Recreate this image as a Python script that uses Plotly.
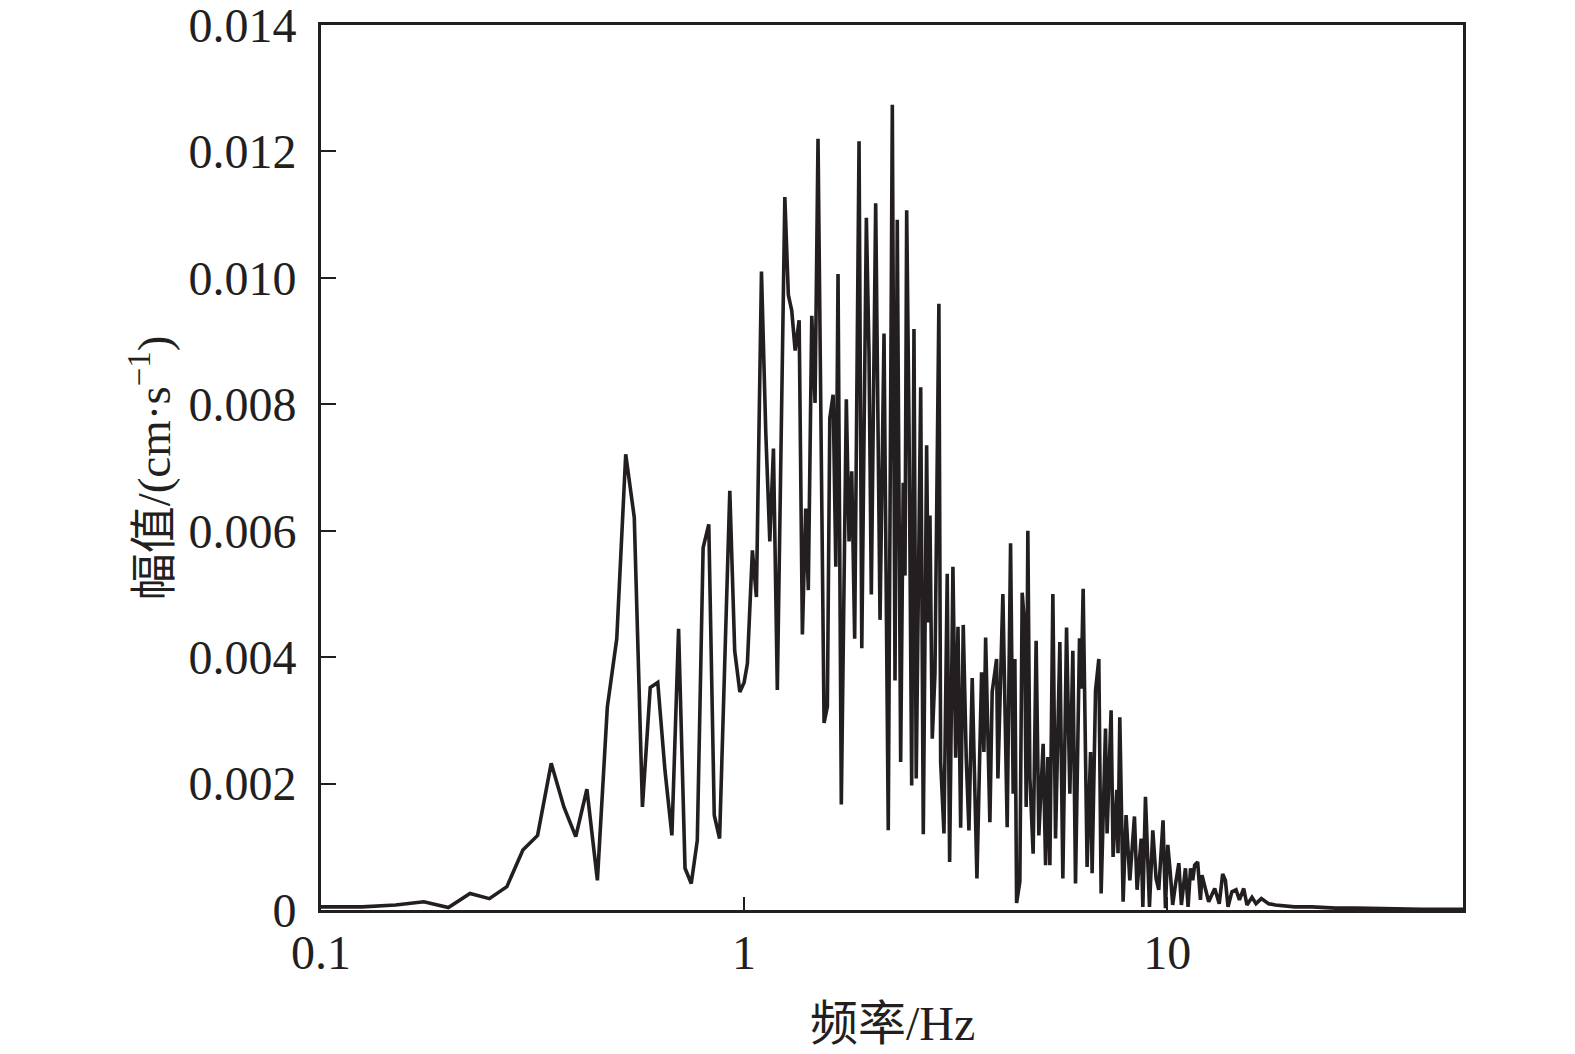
import plotly.graph_objects as go

# Frequency (Hz) and Fourier amplitude (cm/s)
freq_low = [0.100, 0.125, 0.150, 0.175, 0.200, 0.225, 0.250, 0.275, 0.300, 0.325,
            0.350, 0.375, 0.400, 0.425, 0.450, 0.475, 0.500, 0.525, 0.550, 0.575,
            0.600, 0.625, 0.650, 0.675, 0.700, 0.725, 0.750, 0.775, 0.800, 0.825,
            0.850, 0.875, 0.925, 0.950, 0.977]
amp_low = [0.00005, 0.00005, 0.00008, 0.00013, 0.00004, 0.00026, 0.00018, 0.00037, 0.00095, 0.00118,
           0.00232, 0.00163, 0.00116, 0.00191, 0.00047, 0.00321, 0.00429, 0.00721, 0.00621, 0.00163,
           0.00352, 0.00360, 0.00221, 0.00118, 0.00445, 0.00066, 0.00042, 0.00110, 0.00573, 0.00610,
           0.00150, 0.00113, 0.00663, 0.00410, 0.00345]

freq_mid = [1.000, 1.018, 1.046, 1.069, 1.099, 1.125, 1.150, 1.173, 1.198, 1.248,
            1.272, 1.296, 1.320, 1.349, 1.373, 1.398, 1.418, 1.445, 1.471, 1.495,
            1.545, 1.573, 1.594, 1.623, 1.647, 1.667, 1.697, 1.744, 1.770, 1.796,
            1.825, 1.869, 1.897, 1.945, 1.973, 1.998, 2.046, 2.095, 2.141, 2.191,
            2.240, 2.273, 2.301, 2.344, 2.377, 2.400, 2.422, 2.453, 2.489, 2.520,
            2.551, 2.614, 2.651, 2.700, 2.724, 2.749, 2.784, 2.825, 2.886, 2.914,
            2.967, 3.020, 3.060, 3.115, 3.162, 3.202, 3.249, 3.295, 3.349, 3.399,
            3.460, 3.550, 3.641, 3.687, 3.722]
amp_mid = [0.00360, 0.00390, 0.00569, 0.00495, 0.01010, 0.00756, 0.00583, 0.00730, 0.00348, 0.01128,
           0.00973, 0.00948, 0.00885, 0.00933, 0.00436, 0.00635, 0.00506, 0.00940, 0.00802, 0.01220,
           0.00296, 0.00322, 0.00778, 0.00815, 0.00543, 0.01006, 0.00167, 0.00808, 0.00583, 0.00694,
           0.00429, 0.01216, 0.00414, 0.01095, 0.00882, 0.00499, 0.01118, 0.00459, 0.00912, 0.00126,
           0.01274, 0.00363, 0.01092, 0.00234, 0.00676, 0.00529, 0.01107, 0.00768, 0.00197, 0.00919,
           0.00208, 0.00827, 0.00120, 0.00735, 0.00455, 0.00624, 0.00271, 0.00374, 0.00959, 0.00234,
           0.00121, 0.00532, 0.00076, 0.00543, 0.00241, 0.00448, 0.00130, 0.00451, 0.00241, 0.00126,
           0.00367, 0.00050, 0.00376, 0.00250, 0.00431]

freq_high = [3.809, 3.857, 3.951, 3.979, 4.088, 4.185, 4.263, 4.324, 4.364, 4.405,
             4.484, 4.541, 4.600, 4.641, 4.683, 4.735, 4.820, 4.899, 4.972, 5.090,
             5.157, 5.221, 5.280, 5.366, 5.445, 5.574, 5.666, 5.781, 5.886, 5.982,
             6.070, 6.204, 6.260, 6.328, 6.465, 6.588, 6.644, 6.769, 6.891, 6.978,
             7.146, 7.208, 7.367, 7.447, 7.600, 7.650, 7.724, 7.865, 7.993, 8.157,
             8.366, 8.486, 8.676, 8.756, 8.882, 9.078, 9.244, 9.410, 9.548, 9.774,
             9.902, 10.03, 10.17, 10.30, 10.45, 10.65, 10.80, 11.04, 11.20, 11.35,
             11.49, 11.61, 11.80, 11.98, 12.08, 12.35, 12.53, 12.95, 13.27, 13.52,
             13.72, 13.92, 14.22, 14.54, 14.81, 15.16, 15.43, 15.86, 16.21, 16.69,
             17.36, 18.01, 19.0, 20.0, 22.0, 25.0, 28.0, 32.0, 40.0, 50.0]
amp_high = [0.00139, 0.00345, 0.00397, 0.00208, 0.00500, 0.00131, 0.00580, 0.00184, 0.00397, 0.00011,
            0.00045, 0.00502, 0.00452, 0.00163, 0.00600, 0.00210, 0.00089, 0.00426, 0.00118, 0.00263,
            0.00071, 0.00242, 0.00071, 0.00500, 0.00113, 0.00424, 0.00050, 0.00447, 0.00184, 0.00410,
            0.00042, 0.00430, 0.00350, 0.00508, 0.00068, 0.00250, 0.00058, 0.00347, 0.00397, 0.00026,
            0.00287, 0.00121, 0.00316, 0.00084, 0.00190, 0.00090, 0.00305, 0.00013, 0.00150, 0.00047,
            0.00148, 0.00032, 0.00113, 0.00005, 0.00179, 0.00005, 0.00126, 0.00050, 0.00032, 0.00142,
            0.00003, 0.00103, 0.00058, 0.00008, 0.00039, 0.00074, 0.00008, 0.00066, 0.00005, 0.00066,
            0.00047, 0.00071, 0.00076, 0.00016, 0.00055, 0.00032, 0.00013, 0.00034, 0.00010, 0.00057,
            0.00047, 0.00005, 0.00029, 0.00032, 0.00016, 0.00034, 0.00008, 0.00020, 0.00010, 0.00018,
            0.00010, 0.00008, 0.00006, 0.00005, 0.00005, 0.00003, 0.00003, 0.00002, 0.00001, 0.00001]

y_tickvals = [0, 0.002, 0.004, 0.006, 0.008, 0.010, 0.012, 0.014]
y_ticktext = ["0", "0.002", "0.004", "0.006", "0.008", "0.010", "0.012", "0.014"]
x_tickvals = [0.1, 1, 10]
x_ticktext = ["0.1", "1", "10"]
x_title = "频率/Hz"
y_title = "幅值/(cm·s<sup>−1</sup>)"

freq = freq_low + freq_mid + freq_high
amp = amp_low + amp_mid + amp_high

INK = "#231f20"
FONT = "Liberation Serif, Times New Roman, Noto Sans CJK SC, serif"

fig = go.Figure()
fig.add_trace(go.Scatter(x=freq, y=amp, mode="lines",
                         line=dict(color=INK, width=3.6), showlegend=False))

# the page body adds an 8 px offset; figure size and margins compensate for it
fig.update_layout(
    width=1567, height=1046,
    paper_bgcolor="white", plot_bgcolor="white",
    margin=dict(l=313, r=112, t=17, b=144, autoexpand=False),
    font=dict(family=FONT, size=48, color=INK),
    annotations=[
        dict(text=x_title, xref="paper", yref="paper", x=0.5, y=-0.128,
             xanchor="center", yanchor="middle", showarrow=False,
             font=dict(family=FONT, size=48, color=INK)),
        dict(text=y_title, xref="paper", yref="paper", x=-0.149, y=0.5,
             xanchor="center", yanchor="middle", showarrow=False, textangle=-90,
             font=dict(family=FONT, size=47, color=INK)),
    ],
)
fig.update_xaxes(
    type="log", range=[-1, 1.69897], automargin=False,
    tickvals=x_tickvals, ticktext=x_ticktext,
    ticks="inside", ticklen=13, tickwidth=2.4, tickcolor=INK,
    showline=True, linewidth=2.8, linecolor=INK, mirror=True,
    showgrid=False, zeroline=False,
    ticklabelstandoff=-2, ticklabeloverflow="allow",
)
fig.update_yaxes(
    range=[0, 0.014], automargin=False,
    tickvals=y_tickvals, ticktext=y_ticktext,
    ticks="inside", ticklen=15, tickwidth=2.4, tickcolor=INK,
    showline=True, linewidth=2.8, linecolor=INK, mirror=True,
    showgrid=False, zeroline=False,
    ticklabelstandoff=12, ticklabeloverflow="allow",
)

fig.write_html("out.html")
